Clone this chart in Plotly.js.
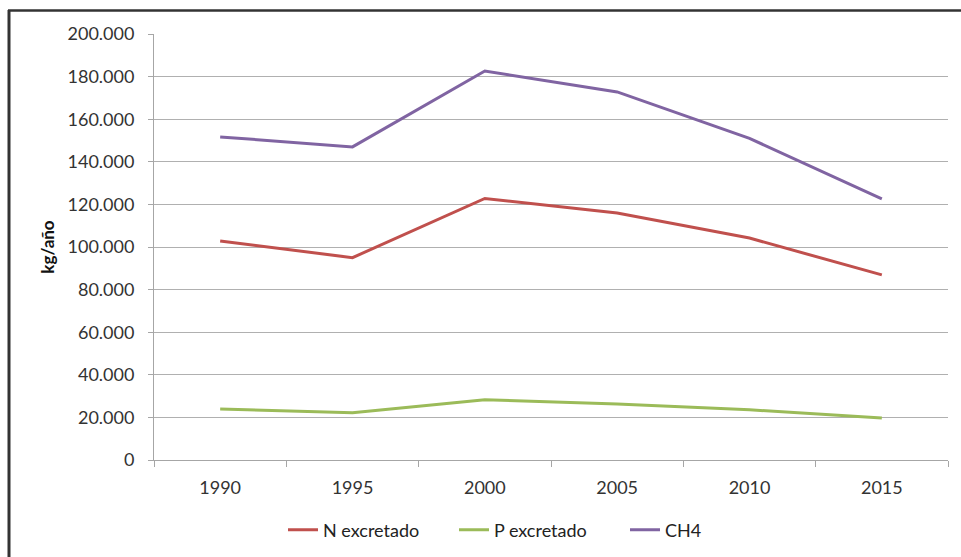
<!DOCTYPE html>
<html>
<head>
<meta charset="utf-8">
<script src="https://cdn.plot.ly/plotly-3.0.1.min.js"></script>
<style>
html,body{margin:0;padding:0;background:#fff;}
#chart{width:961px;height:557px;}
</style>
</head>
<body>
<div id="chart"></div>
<script>
var years = ["1990", "1995", "2000", "2005", "2010", "2015"];
var nExcretado = [102800, 95000, 122800, 116000, 104200, 86900];
var pExcretado = [23900, 22200, 28300, 26300, 23600, 19700];
var ch4 = [151700, 147000, 182600, 172800, 151000, 122600];
var yTickVals = [0, 20000, 40000, 60000, 80000, 100000, 120000, 140000, 160000, 180000, 200000];
var yTickText = ["0", "20.000", "40.000", "60.000", "80.000", "100.000", "120.000", "140.000", "160.000", "180.000", "200.000"];

var L = 154, R = 13, T = 34, B = 97, W = 961, H = 557;
var pw = W - L - R, ph = H - T - B;
function px(x){ return (x - L) / pw; }
function py(y){ return (H - B - y) / ph; }

var font = "Lato, 'Open Sans', 'Liberation Sans', sans-serif";

var traces = [
  {x: years, y: nExcretado, name: "N excretado", type: "scatter", mode: "lines",
   line: {color: "#C0504D", width: 3}},
  {x: years, y: pExcretado, name: "P excretado", type: "scatter", mode: "lines",
   line: {color: "#9BBB59", width: 3}},
  {x: years, y: ch4, name: "CH4", type: "scatter", mode: "lines",
   line: {color: "#8064A2", width: 3}}
];

var layout = {
  width: W, height: H,
  margin: {l: L, r: R, t: T, b: B, pad: 0, autoexpand: false},
  paper_bgcolor: "#fff", plot_bgcolor: "#fff",
  font: {family: font, size: 18, color: "#333"},
  showlegend: true,
  hovermode: false,
  legend: {orientation: "h", x: px(283), xanchor: "left", y: py(530), yanchor: "middle",
           entrywidth: 126, entrywidthmode: "pixels",
           font: {family: font, size: 18, color: "#222"}, traceorder: "normal"},
  xaxis: {
    type: "category", range: [-0.5, 5.5], fixedrange: true,
    showgrid: false, zeroline: false,
    showline: true, linecolor: "#a6a6a6", linewidth: 1,
    ticks: "outside", tickson: "boundaries", ticklen: 6, tickcolor: "#a6a6a6",
    ticklabelstandoff: 11,
    tickfont: {family: font, size: 18, color: "#333"}
  },
  yaxis: {
    range: [0, 200000], fixedrange: true,
    tickvals: yTickVals, ticktext: yTickText,
    showgrid: true, gridcolor: "#b0b0b0", gridwidth: 1,
    zeroline: false,
    showline: true, linecolor: "#a6a6a6", linewidth: 1,
    ticks: "outside", ticklen: 5, tickcolor: "#a6a6a6",
    ticklabelstandoff: 10,
    tickfont: {family: font, size: 18, color: "#333"},
    title: {text: "kg/año", standoff: 8, font: {family: font, size: 17, color: "#111", weight: "bold"}}
  },
  shapes: [
    {type: "line", xref: "paper", yref: "paper", x0: px(9), x1: px(9), y0: py(10), y1: py(560),
     line: {color: "#333", width: 3}},
    {type: "line", xref: "paper", yref: "paper", x0: px(8), x1: px(965), y0: py(10.5), y1: py(10.5),
     line: {color: "#333", width: 2.5}}
  ]
};

Plotly.newPlot("chart", traces, layout, {displayModeBar: false, staticPlot: true});
</script>
</body>
</html>
